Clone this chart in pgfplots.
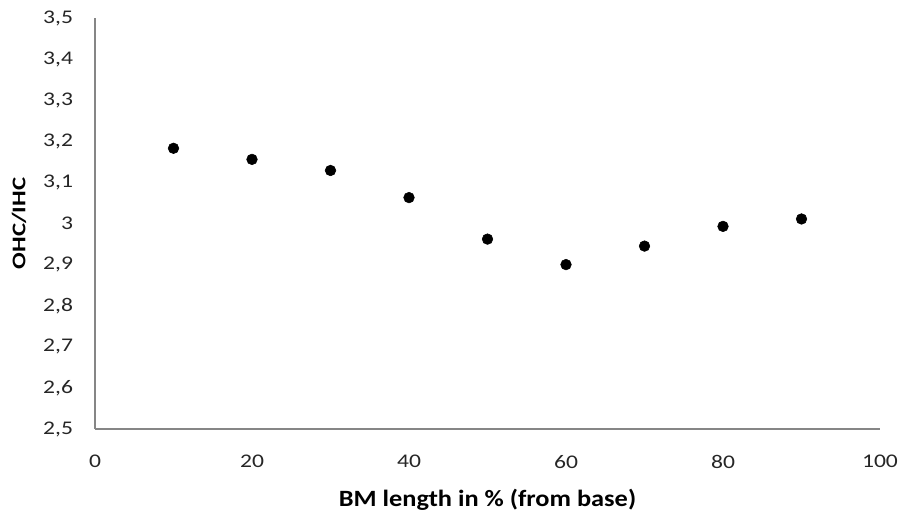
\documentclass[border=0pt]{standalone}
\usepackage{pgfplots}
\pgfplotsset{compat=1.18}
\usepackage{fontspec}
\setmainfont{Carlito}
\newfontfamily\tickfont{Carlito}[FakeStretch=1.22]
\newfontfamily\labfont{Carlito}[FakeStretch=1.13]
\newfontfamily\ylabfont{Carlito}[FakeStretch=1.28]
\definecolor{axgray}{RGB}{134,134,134}
\begin{document}
\begin{tikzpicture}
\begin{axis}[
  name=ax,
  scale only axis,
  width=588.75pt, height=308.25pt,
  xmin=0, xmax=100, ymin=2.5, ymax=3.5,
  xtick={0,20,...,100},
  ytick={2.5,2.6,...,3.51},
  axis x line*=bottom, axis y line*=left,
  axis line style={axgray, line width=1pt, -},
  major tick length=0pt,
  tick style={draw=none},
  /pgf/number format/assume math mode=true,
  /pgf/number format/use comma,
  /pgf/number format/fixed,
  /pgf/number format/precision=1,
  yticklabel style={font=\tickfont\fontsize{14.5}{17}\selectfont, color=black!85, xshift=-13pt},
  xticklabel style={font=\tickfont\fontsize{14.5}{17}\selectfont, color=black!85, yshift=-16pt},
  xlabel={\textbf{BM length in \% (from base)}},
  ylabel={\textbf{OHC/IHC}},
  xlabel style={font=\labfont\fontsize{17.5}{19}\selectfont, at={(rel axis cs:0.5,0)}, anchor=base, yshift=-58.5pt},
  ylabel style={font=\ylabfont\fontsize{14.5}{16}\selectfont, at={(rel axis cs:0,0.5)}, anchor=center, yshift=57pt},
  clip=false,
]
\addplot[only marks, mark=*, mark size=4pt, mark options={fill=black, draw=black}] coordinates {
  (10,3.183) (20,3.156) (30,3.129) (40,3.063) (50,2.962)
  (60,2.900) (70,2.945) (80,2.993) (90,3.011)
};
\end{axis}
\path[use as bounding box] ([shift={(-71.25pt,-63pt)}]ax.south west) rectangle ([shift={(607.5pt,321.75pt)}]ax.south west);
\end{tikzpicture}
\end{document}
